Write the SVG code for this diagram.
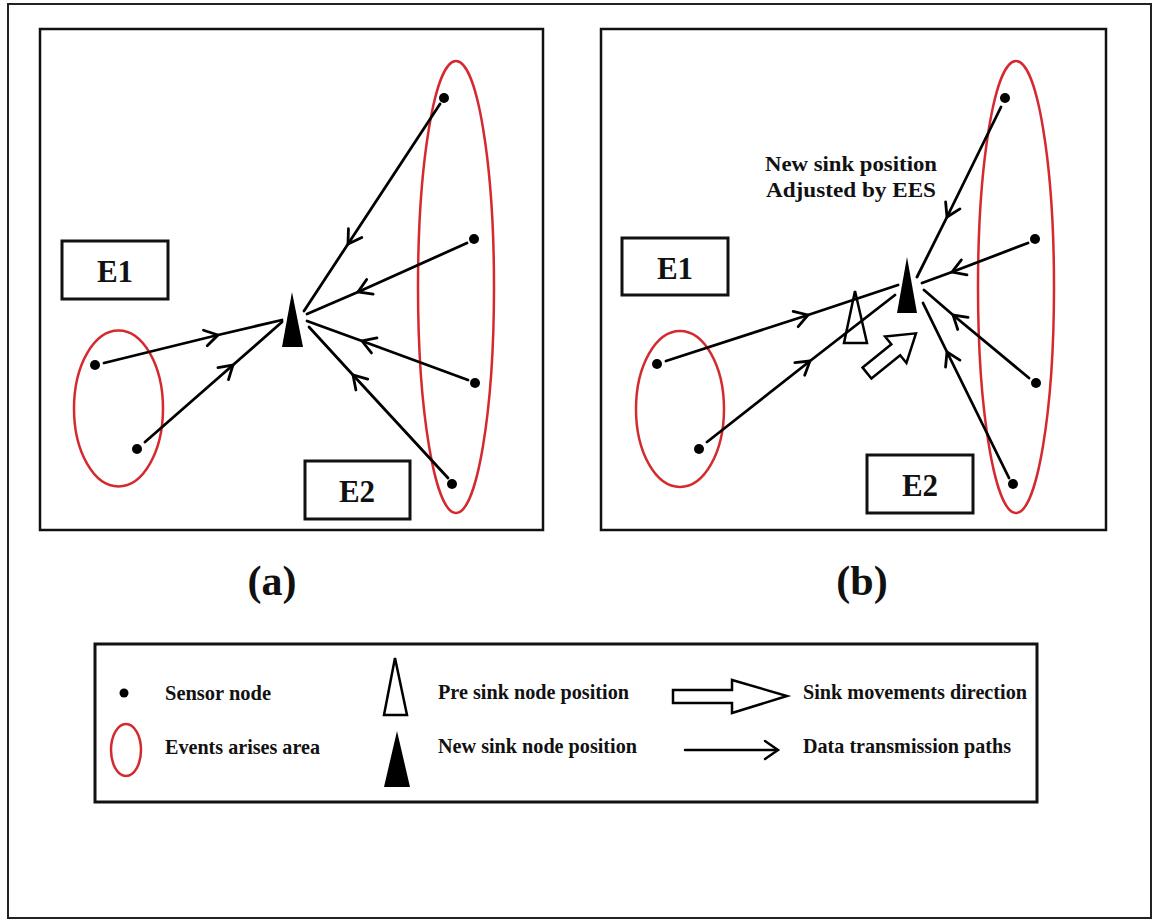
<svg xmlns="http://www.w3.org/2000/svg" width="1155" height="921" viewBox="0 0 1155 921">
  <style>
    .frame { fill: #ffffff; stroke: #222; stroke-width: 2; }
    .panel { fill: #ffffff; stroke: #111; stroke-width: 2.5; }
    .box { fill: #ffffff; stroke: #111; stroke-width: 3; }
    .area { fill: none; stroke: #d42a2f; stroke-width: 2.5; }
    .dot { fill: #000; }
    .sink { fill: #000; stroke: none; }
    .presink { fill: #fff; stroke: #000; stroke-width: 2.5; stroke-linejoin: miter; }
    .move { fill: #fff; stroke: #000; stroke-width: 2.5; stroke-linejoin: miter; }
    .path { fill: none; stroke: #000; stroke-width: 2.8; stroke-linecap: round; marker-mid: url(#chev); }
    .lbl { font-family: "Liberation Serif", "Times New Roman", serif; font-weight: bold; fill: #111; }
    .ebox { font-size: 31px; text-anchor: middle; }
    .cap { font-size: 42px; text-anchor: middle; }
    .leg { font-size: 21px; }
    .note { font-size: 22px; }
  </style>
  <defs>
    <marker id="chev" viewBox="-16 -11 18 22" markerWidth="18" markerHeight="22" refX="0" refY="0" markerUnits="userSpaceOnUse" orient="auto" overflow="visible">
      <path d="M -13 -8 L 0 0 L -13 8" fill="none" stroke="#000" stroke-width="2.8" stroke-linecap="round" stroke-linejoin="miter"/>
    </marker>
  </defs>

  <rect class="frame" x="8" y="4" width="1143" height="914"/>

  <g id="panel-a">
    <rect class="panel" x="40" y="29" width="503" height="501"/>
  </g>
  <g id="panel-b">
    <rect class="panel" x="601" y="29" width="505" height="501"/>
  </g>

  <g id="area-a-left"><ellipse class="area" cx="118.5" cy="408.5" rx="44.5" ry="78"/></g>
  <g id="area-a-right"><ellipse class="area" cx="456" cy="287" rx="38" ry="226"/></g>
  <g id="area-b-left"><ellipse class="area" cx="680" cy="409" rx="44" ry="78"/></g>
  <g id="area-b-right"><ellipse class="area" cx="1016" cy="287" rx="38" ry="226"/></g>

  <g id="e1-a"><rect class="box" x="62" y="241" width="106" height="58"/><text class="lbl ebox" x="115" y="282">E1</text></g>
  <g id="e2-a"><rect class="box" x="305" y="461" width="105" height="58"/><text class="lbl ebox" x="357" y="502">E2</text></g>
  <g id="e1-b"><rect class="box" x="622" y="238" width="106" height="57"/><text class="lbl ebox" x="675" y="279">E1</text></g>
  <g id="e2-b"><rect class="box" x="867" y="455" width="106" height="58"/><text class="lbl ebox" x="920" y="496">E2</text></g>

  <g id="nodes-a">
    <circle class="dot" cx="95" cy="365" r="5"/>
    <circle class="dot" cx="137" cy="449" r="5"/>
    <circle class="dot" cx="444" cy="98" r="5"/>
    <circle class="dot" cx="474" cy="239" r="5"/>
    <circle class="dot" cx="475" cy="383" r="5"/>
    <circle class="dot" cx="452" cy="484" r="5"/>
  </g>
  <g id="nodes-b">
    <circle class="dot" cx="657" cy="364" r="5"/>
    <circle class="dot" cx="699" cy="449" r="5"/>
    <circle class="dot" cx="1005" cy="98" r="5"/>
    <circle class="dot" cx="1035" cy="239" r="5"/>
    <circle class="dot" cx="1036" cy="383" r="5"/>
    <circle class="dot" cx="1013" cy="484" r="5"/>
  </g>

  <g id="sink-a"><polygon class="sink" points="292,292 282,347 303,347"/></g>
  <g id="presink-b"><polygon class="presink" points="855,291 844,343 867,343"/></g>
  <g id="sink-b"><polygon class="sink" points="907,257 897,313 917,313"/></g>
  <g id="move-b">
    <polygon class="move" transform="translate(867,373) rotate(-39)" points="0,-7 37,-7 37,-17 63,0 37,17 37,7 0,7"/>
  </g>

  <g id="connectors">
    <path class="path" d="M104 363 L218 335 L282 320"/>
    <path class="path" d="M145 442 L233 365 L282 322"/>
    <path class="path" d="M440 104 L348 244 L304 311"/>
    <path class="path" d="M467 243 L358 292 L307 314"/>
    <path class="path" d="M468 380 L362 341 L307 321"/>
    <path class="path" d="M448 478 L353 375 L309 327"/>

    <path class="path" d="M666 361 L808 315 L898 285"/>
    <path class="path" d="M707 442 L810 361 L895 295"/>
    <path class="path" d="M1001 107 L947 217 L917 277"/>
    <path class="path" d="M1028 243 L952 272 L922 283"/>
    <path class="path" d="M1029 378 L953 315 L924 290"/>
    <path class="path" d="M1009 478 L947 352 L923 303"/>
  </g>

  <g id="note">
    <text class="lbl note" x="765" y="171" textLength="172" lengthAdjust="spacingAndGlyphs">New sink position</text>
    <text class="lbl note" x="766" y="197" textLength="170" lengthAdjust="spacingAndGlyphs">Adjusted by EES</text>
  </g>

  <g id="captions">
    <text class="lbl cap" x="272" y="595">(a)</text>
    <text class="lbl cap" x="862" y="595">(b)</text>
  </g>

  <g id="legend">
    <rect class="panel" x="95" y="644" width="942" height="158" style="stroke-width:3"/>
    <circle class="dot" cx="124" cy="693" r="4.5"/>
    <text class="lbl leg" x="165" y="700" textLength="106" lengthAdjust="spacingAndGlyphs">Sensor node</text>
    <ellipse class="area" cx="126" cy="750" rx="15" ry="26"/>
    <text class="lbl leg" x="165" y="754" textLength="155" lengthAdjust="spacingAndGlyphs">Events arises area</text>
    <polygon class="presink" points="395,658 384,715 407,715"/>
    <text class="lbl leg" x="438" y="699" textLength="191" lengthAdjust="spacingAndGlyphs">Pre sink node position</text>
    <polygon class="sink" points="397,731 384,787 410,787"/>
    <text class="lbl leg" x="438" y="753" textLength="199" lengthAdjust="spacingAndGlyphs">New sink node position</text>
    <polygon class="move" points="673,690 732,690 732,680 787,696 732,713 732,703 673,703"/>
    <text class="lbl leg" x="803" y="699" textLength="224" lengthAdjust="spacingAndGlyphs">Sink movements direction</text>
    <path d="M685 750 L777 750" fill="none" stroke="#000" stroke-width="2.5" stroke-linecap="round"/>
    <path d="M765 741 L778 750 L765 759" fill="none" stroke="#000" stroke-width="2.5" stroke-linecap="round"/>
    <text class="lbl leg" x="803" y="753" textLength="208" lengthAdjust="spacingAndGlyphs">Data transmission paths</text>
  </g>
</svg>
